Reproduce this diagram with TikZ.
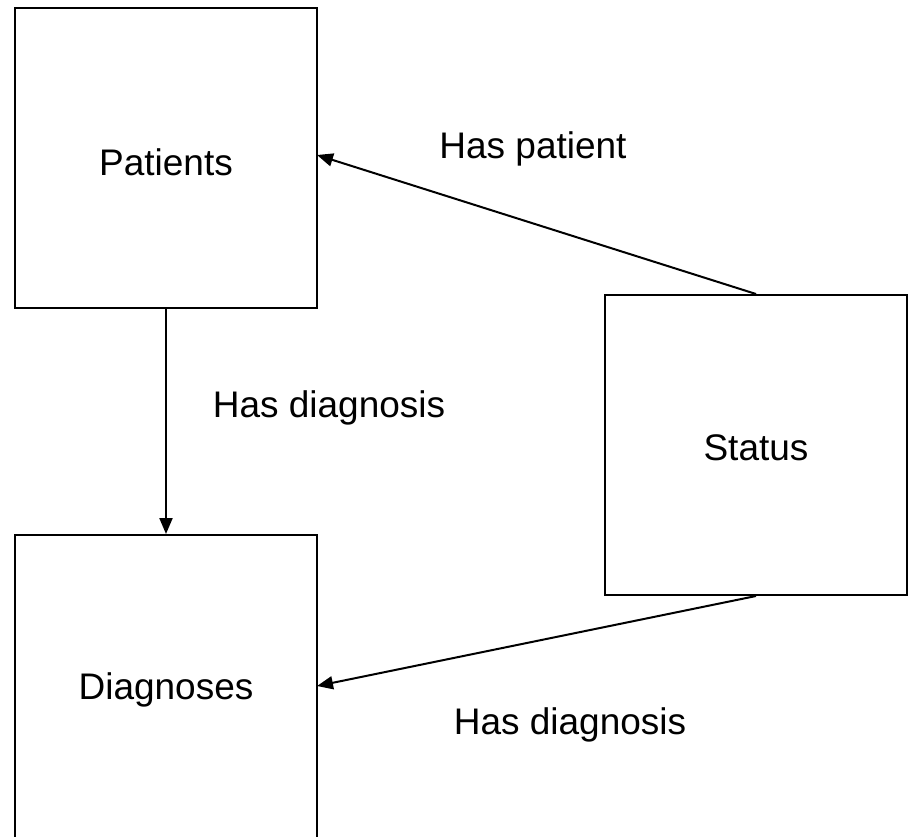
\documentclass[tikz,border=0pt]{standalone}
\usepackage{fontspec}
\setmainfont{Liberation Sans}
\usetikzlibrary{arrows.meta}
\begin{document}
\begin{tikzpicture}[x=1pt,y=-1pt,
  box/.style={draw=black,line width=2pt,minimum width=302pt,minimum height=300pt,inner sep=0pt},
  lbl/.style={font=\fontsize{37}{44}\selectfont,inner sep=0pt},
  conn/.style={line width=2pt,-{Triangle[length=16pt,width=13pt]}}]
\clip (0,0) rectangle (912,836);
\fill[white] (0,0) rectangle (912,836);
\node[box] (pat) at (166,158) {};
\node[box,minimum height=310pt] (diag) at (166,690) {};
\node[box] (stat) at (756,445) {};
\node[lbl] (tpat) at (166,162) {Patients};
\node[lbl] (tdiag) at (166,690) {Diagnoses};
\node[lbl] (tstat) at (756,448) {Status};
\coordinate (sTop) at (756,294);
\coordinate (sBot) at (756,596);
\coordinate (pR) at (317,155);
\coordinate (dR) at (317,686);
\draw[conn] (pat.south) -- (diag.north);
\draw[conn] (sTop) -- (pR);
\draw[conn] (sBot) -- (dR);
\node[lbl] (l1) at (533,149) {Has patient};
\node[lbl] (l2) at (329,408) {Has diagnosis};
\node[lbl] (l3) at (570,725) {Has diagnosis};
\end{tikzpicture}
\end{document}
